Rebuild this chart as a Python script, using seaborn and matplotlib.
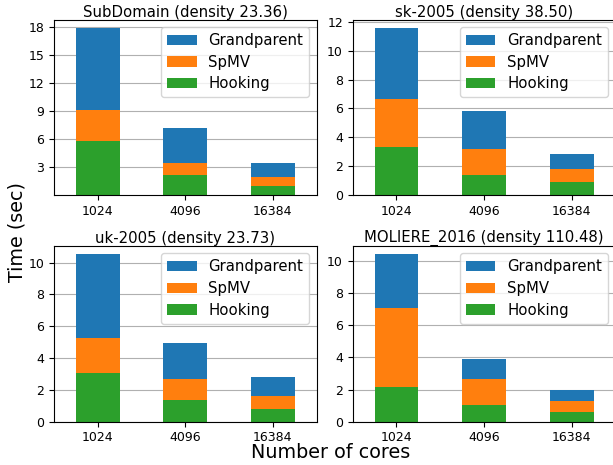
import pandas as pd
import seaborn as sns
import matplotlib.pyplot as plt

# values (seconds), one entry per core count
cores = ["1024", "4096", "16384"]
components = ["Grandparent", "SpMV", "Hooking"]
datasets = ["SubDomain (density 23.36)", "sk-2005 (density 38.50)",
            "uk-2005 (density 23.73)", "MOLIERE_2016 (density 110.48)"]

hooking = {
    datasets[0]: [5.75, 2.10, 1.01],
    datasets[1]: [3.36, 1.39, 0.90],
    datasets[2]: [3.05, 1.36, 0.79],
    datasets[3]: [2.17, 1.05, 0.60],
}
spmv = {
    datasets[0]: [3.36, 1.37, 0.94],
    datasets[1]: [3.26, 1.81, 0.91],
    datasets[2]: [2.22, 1.32, 0.84],
    datasets[3]: [4.90, 1.59, 0.68],
}
grandparent = {
    datasets[0]: [8.84, 3.69, 1.52],
    datasets[1]: [4.96, 2.64, 1.04],
    datasets[2]: [5.25, 2.26, 1.19],
    datasets[3]: [3.32, 1.24, 0.68],
}

palette = {"Grandparent": "tab:blue", "SpMV": "tab:orange", "Hooking": "tab:green"}

rows = []
for d in datasets:
    for i, c in enumerate(cores):
        h = hooking[d][i]
        s = spmv[d][i]
        g = grandparent[d][i]
        # cumulative tops so the bars stack: Hooking bottom, SpMV, Grandparent on top
        rows.append({"dataset": d, "cores": c, "component": "Hooking", "top": h})
        rows.append({"dataset": d, "cores": c, "component": "SpMV", "top": h + s})
        rows.append({"dataset": d, "cores": c, "component": "Grandparent", "top": h + s + g})
df = pd.DataFrame(rows)

sns.set_style("ticks", {"axes.edgecolor": "black", "text.color": "black",
                        "xtick.color": "black", "ytick.color": "black",
                        "axes.labelcolor": "black"})
plt.rcParams["font.family"] = ["DejaVu Sans"]
plt.rcParams["axes.linewidth"] = 0.8

fig = plt.figure(figsize=(6.13, 4.65), dpi=100)
# axes boxes (fractions of the figure), right column runs slightly off the canvas
boxes = [
    [0.0881, 0.5806, 0.4285, 0.3774],
    [0.5754, 0.5806, 0.4285, 0.3774],
    [0.0881, 0.0931, 0.4285, 0.3778],
    [0.5754, 0.0931, 0.4285, 0.3778],
]

for d, box in zip(datasets, boxes):
    ax = fig.add_axes(box)
    sub = df[df.dataset == d]
    sns.barplot(data=sub, x="cores", y="top", hue="component", order=cores,
                hue_order=components, palette=palette, dodge=False, width=0.5,
                saturation=1, errorbar=None, linewidth=0, edgecolor="none", ax=ax)
    ax.set_title(d, fontsize=10.7, pad=2)
    ax.set_xlabel("")
    ax.set_ylabel("")
    ax.tick_params(labelsize=9, length=3.5, width=0.8)
    ax.yaxis.grid(True, color="#b0b0b0", linewidth=0.8)
    ax.set_axisbelow(True)
    for sp in ax.spines.values():
        sp.set_visible(True)
    if d == datasets[0]:
        ax.set_yticks([3, 6, 9, 12, 15, 18])
    sns.move_legend(ax, "upper right", title=None, fontsize=10.7, frameon=True,
                    framealpha=0.8, edgecolor="0.8", fancybox=True, labelspacing=0.45)

fig.text(0.027, 0.5, "Time (sec)", rotation=90, va="center", ha="center", fontsize=13.8)
fig.text(0.54, 0.0144, "Number of cores", va="baseline", ha="center", fontsize=13.8)

fig.savefig("out.png", dpi=100)
